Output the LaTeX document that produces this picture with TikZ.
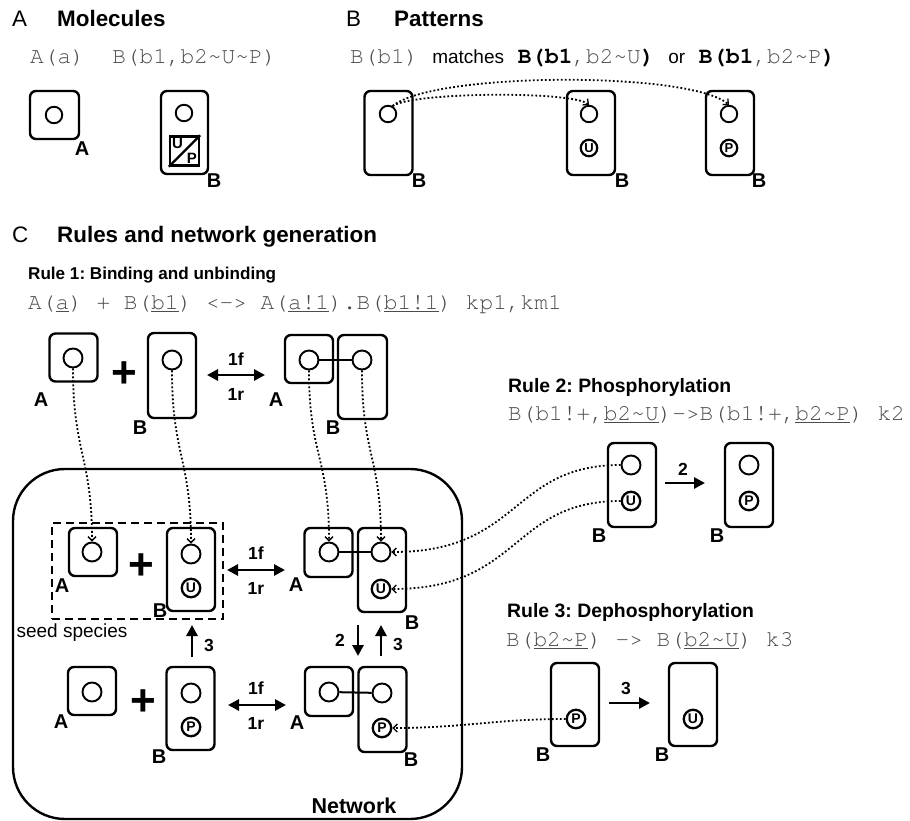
\documentclass[tikz,border=0pt]{standalone}
\usepackage{fontspec}
\setmainfont{Liberation Sans}
\newfontfamily\codefont{TeX Gyre Cursor}
\usetikzlibrary{arrows.meta}
\definecolor{codegray}{gray}{0.3}
\newcommand{\myfs}[1]{\fontsize{#1}{#1}\selectfont}
\frenchspacing
\begin{document}
\begin{tikzpicture}[x=1pt,y=-1pt,
  molbox/.style={draw, line width=2.4pt, rounded corners=6pt, inner sep=0pt, minimum width=48pt},
  site/.style={circle, draw, line width=1.9pt, minimum size=19pt, inner sep=0pt},
  ssite/.style={circle, draw, line width=1.9pt, minimum size=16.5pt, inner sep=0pt},
  stsite/.style={circle, draw, line width=2.3pt, minimum size=18.5pt, inner sep=0pt, font=\bfseries\myfs{14}},
  sstsite/.style={circle, draw, line width=2.2pt, minimum size=16.5pt, inner sep=0pt, font=\bfseries\myfs{13}},
  lbl/.style={font=\bfseries\myfs{20}, inner sep=0pt},
  rlbl/.style={font=\bfseries\myfs{17.5}, inner sep=0pt},
  headtxt/.style={font=\myfs{22.4}, anchor=base west, inner sep=0pt},
  headbold/.style={font=\bfseries\myfs{22.4}, anchor=base west, inner sep=0pt},
  rhead/.style={font=\bfseries\myfs{19.4}, anchor=base west, inner sep=0pt},
  codetxt/.style={font=\codefont\myfs{22.8}, text=codegray, anchor=base west, inner sep=0pt},
  plussign/.style={font=\bfseries\myfs{44}, inner sep=0pt},
  rarrow/.style={line width=2.8pt, -{Triangle[length=11pt,width=11pt]}},
  darrow/.style={line width=2.8pt, {Triangle[length=11pt,width=11pt]}-{Triangle[length=11pt,width=11pt]}},
  dotline/.style={line width=1.8pt, dash pattern=on 1.8pt off 2.2pt, -{Straight Barb[length=4pt,width=8pt,line width=1.3pt]}},
  bondline/.style={line width=2pt},
]
\useasboundingbox (0,0) rectangle (910,821);

% ---------------- Panel A ----------------
\node[headtxt] (hA) at (12,27) {A};
\node[headbold] (hAt) at (57,27) {Molecules};
\node[codetxt] (cA) at (30,64) {A(a)\ \ B(b1,b2\textasciitilde U\textasciitilde P)};
\node[molbox, minimum width=49pt, minimum height=48pt] (mA) at (54.5,115) {};
\node[ssite] (mAa) at (54,115) {};
\node[lbl] (lmA) at (82,149) {A};
\node[molbox, minimum width=47pt, minimum height=83pt] (mB) at (184.5,132.5) {};
\node[ssite] (mBb1) at (184,113) {};
\node[draw, line width=2.4pt, minimum size=29pt, inner sep=0pt] (mBb2) at (184.5,151) {};
\draw[line width=2.4pt] (mBb2.south west) -- (mBb2.north east);
\node[font=\bfseries\myfs{15}, inner sep=0pt] (mBu) at (177.5,143.5) {U};
\node[font=\bfseries\myfs{15}, inner sep=0pt] (mBp) at (192,158.5) {P};
\node[lbl] (lmB) at (214,181) {B};

% ---------------- Panel B ----------------
\node[headtxt] (hB) at (346,27) {B};
\node[headbold] (hBt) at (394,27) {Patterns};
\node[codetxt] (cB) at (350,64) {B(b1)\ {\normalfont\myfs{19}\color{black}matches}\ {\color{black}\bfseries B(b1},b2\textasciitilde U{\color{black}\bfseries )}\ {\normalfont\myfs{19}\color{black}or}\ {\color{black}\bfseries B(b1},b2\textasciitilde P{\color{black}\bfseries )}};
\node[molbox, minimum height=84pt] (pB1) at (388.5,133) {};
\node[ssite] (pB1a) at (388,114) {};
\node[lbl] (lpB1) at (419,181) {B};
\node[molbox, minimum height=84pt] (pB2) at (591,133) {};
\node[ssite] (pB2a) at (589,114) {};
\node[sstsite] (pB2u) at (589,148) {U};
\node[lbl] (lpB2) at (622,181) {B};
\node[molbox, minimum height=84pt] (pB3) at (730,133) {};
\node[ssite] (pB3a) at (729,114) {};
\node[sstsite] (pB3p) at (729,148) {P};
\node[lbl] (lpB3) at (759,181) {B};
\draw[dotline] (pB1a.60) .. controls +(20,-14) and +(-18,-14) .. (pB2a.north);
\draw[dotline] (pB1a.60) .. controls +(40,-34) and +(-40,-34) .. (pB3a.north);

% ---------------- Panel C ----------------
\node[headtxt] (hC) at (12,243) {C};
\node[headbold] (hCt) at (57,243) {Rules and network generation};

% Rule 1
\node[rhead, font=\bfseries\myfs{17.1}] (r1h) at (28,279) {Rule 1: Binding and unbinding};
\node[codetxt] (r1c) at (28,309) {A(\underline{a}) + B(\underline{b1}) <-> A(\underline{a!1}).B(\underline{b1!1}) kp1,km1};
\node[molbox, minimum height=48pt] (r1A) at (73.5,357.5) {};
\node[site] (r1Aa) at (73,358) {};
\node[lbl] (r1lA) at (41,400) {A};
\node[plussign] (r1p) at (124,375) {+};
\node[molbox, minimum height=85pt] (r1B) at (172,375.5) {};
\node[site] (r1Bb) at (172,360) {};
\node[lbl] (r1lB) at (140,428) {B};
\coordinate (r1d1) at (207,375);
\coordinate (r1d2) at (265,375);
\draw[darrow] (r1d1) -- (r1d2);
\node[rlbl] (r1f) at (236,359) {1f};
\node[rlbl] (r1r) at (236,394) {1r};
\node[molbox, minimum height=48pt] (r1cA) at (309,359) {};
\node[site] (r1cAa) at (309,360) {};
\node[molbox, minimum width=49pt, minimum height=84pt] (r1cB) at (362.5,377) {};
\node[site] (r1cBb) at (362,360) {};
\draw[bondline] (r1cAa) -- (r1cBb);
\node[lbl] (r1lcA) at (276,400) {A};
\node[lbl] (r1lcB) at (333,428) {B};

% Network
\node[draw, line width=2.4pt, rounded corners=52pt, minimum width=449pt, minimum height=350pt, inner sep=0pt] (net) at (237.5,644) {};
\node[font=\bfseries\myfs{21.5}, inner sep=0pt] (netl) at (354,806) {Network};

% seed species row
\node[draw, line width=2.4pt, dash pattern=on 8pt off 5pt, minimum width=171pt, minimum height=96pt, inner sep=0pt] (seed) at (137.5,571) {};
\node[font=\myfs{19}, inner sep=0pt] (seedl) at (72,633) {seed species};
\node[molbox, minimum height=48pt] (nA) at (93,552) {};
\node[site] (nAa) at (92,552) {};
\node[lbl] (nlA) at (62,586) {A};
\node[plussign] (np1) at (141,567) {+};
\node[molbox, minimum height=83pt] (nB) at (191,569.5) {};
\node[site] (nBb) at (191,554) {};
\node[stsite] (nBu) at (191,588) {U};
\node[lbl] (nlB) at (160,611) {B};
\coordinate (nd1a) at (227,570);
\coordinate (nd1b) at (285,570);
\draw[darrow] (nd1a) -- (nd1b);
\node[rlbl] (n1f) at (256,553) {1f};
\node[rlbl] (n1r) at (256,588) {1r};
\node[molbox, minimum height=49pt] (ncA) at (328.5,552.5) {};
\node[site] (ncAa) at (329,552) {};
\node[molbox, minimum height=84pt] (ncB) at (382,570) {};
\node[site] (ncBb) at (381,552) {};
\node[stsite] (ncBu) at (381,589) {U};
\draw[bondline] (ncAa) -- (ncBb);
\node[lbl] (nlcA) at (296,585) {A};
\node[lbl] (nlcB) at (412,623) {B};

% vertical reactions
\coordinate (n3a) at (192,657);
\coordinate (n3b) at (192,625);
\draw[rarrow] (n3a) -- (n3b);
\node[rlbl] (n3l) at (209,645) {3};
\coordinate (n2a) at (358,625);
\coordinate (n2b) at (358,656);
\draw[rarrow] (n2a) -- (n2b);
\node[rlbl] (n2l) at (340,640) {2};
\coordinate (n3c) at (381,656);
\coordinate (n3d) at (381,625);
\draw[rarrow] (n3c) -- (n3d);
\node[rlbl] (n3l2) at (398,644) {3};

% bottom row
\node[molbox, minimum height=48pt] (nA2) at (92,691) {};
\node[site] (nA2a) at (92,692) {};
\node[lbl] (nlA2) at (61,722) {A};
\node[plussign] (np2) at (143,703) {+};
\node[molbox, minimum height=83pt] (nB2) at (190.5,708.5) {};
\node[site] (nB2b) at (191,693) {};
\node[stsite] (nB2p) at (191,727) {P};
\node[lbl] (nlB2) at (159,757) {B};
\coordinate (nd2a) at (228,705);
\coordinate (nd2b) at (286,705);
\draw[darrow] (nd2a) -- (nd2b);
\node[rlbl] (n1f2) at (256,688) {1f};
\node[rlbl] (n1r2) at (256,723) {1r};
\node[molbox, minimum height=49pt] (ncA2) at (329,691.5) {};
\node[site] (ncA2a) at (329,692) {};
\node[molbox, minimum height=85pt] (ncB2) at (382.5,709.5) {};
\node[site] (ncB2b) at (382,693) {};
\node[stsite] (ncB2p) at (382,728) {P};
\draw[bondline] (ncA2a) -- (ncB2b);
\node[lbl] (nlcA2) at (297,723) {A};
\node[lbl] (nlcB2) at (411,760) {B};

% dotted links rule 1 -> network
\draw[dotline] (r1Aa.south) .. controls +(0,85) and +(0,-85) .. (nAa.north);
\draw[dotline] (r1Bb.south) .. controls +(0,85) and +(0,-85) .. (nBb.north);
\draw[dotline] (r1cAa.south) .. controls +(0,85) and +(0,-85) .. (ncAa.north);
\draw[dotline] (r1cBb.south) .. controls +(0,85) and +(0,-85) .. (ncBb.north);

% Rule 2
\node[rhead] (r2h) at (508,392) {Rule 2: Phosphorylation};
\node[codetxt] (r2c) at (508,420) {B(b1!+,\underline{b2\textasciitilde U})->B(b1!+,\underline{b2\textasciitilde P}) k2};
\node[molbox, minimum height=84pt] (r2B) at (632,485) {};
\node[site] (r2Bb) at (631,465) {};
\node[stsite] (r2Bu) at (631,501) {U};
\node[lbl] (r2lB) at (599,536) {B};
\coordinate (r2a) at (665,483);
\coordinate (r2b) at (705,483);
\draw[rarrow] (r2a) -- (r2b);
\node[rlbl] (r2al) at (683,469) {2};
\node[molbox, minimum height=84pt] (r2B2) at (749,485) {};
\node[site] (r2B2b) at (749,465) {};
\node[stsite] (r2B2p) at (749,501) {P};
\node[lbl] (r2lB2) at (717,536) {B};
\draw[dotline] (r2Bb.west) .. controls +(-110,0) and +(130,0) .. (ncBb.east);
\draw[dotline] (r2Bu.west) .. controls +(-110,0) and +(130,0) .. (ncBu.east);

% Rule 3
\node[rhead] (r3h) at (507,617) {Rule 3: Dephosphorylation};
\node[codetxt] (r3c) at (506,646) {B(\underline{b2\textasciitilde P}) -> B(\underline{b2\textasciitilde U}) k3};
\node[molbox, minimum height=83pt] (r3B) at (575,704.5) {};
\node[stsite] (r3Bp) at (576,719) {P};
\node[lbl] (r3lB) at (543,755) {B};
\coordinate (r3a) at (609,703);
\coordinate (r3b) at (650,703);
\draw[rarrow] (r3a) -- (r3b);
\node[rlbl] (r3al) at (626,688) {3};
\node[molbox, minimum height=83pt] (r3B2) at (693,704.5) {};
\node[stsite] (r3B2u) at (693,719) {U};
\node[lbl] (r3lB2) at (662,755) {B};
\draw[dotline] (r3Bp.west) .. controls +(-70,0) and +(70,0) .. (ncB2p.east);
\end{tikzpicture}
\end{document}
